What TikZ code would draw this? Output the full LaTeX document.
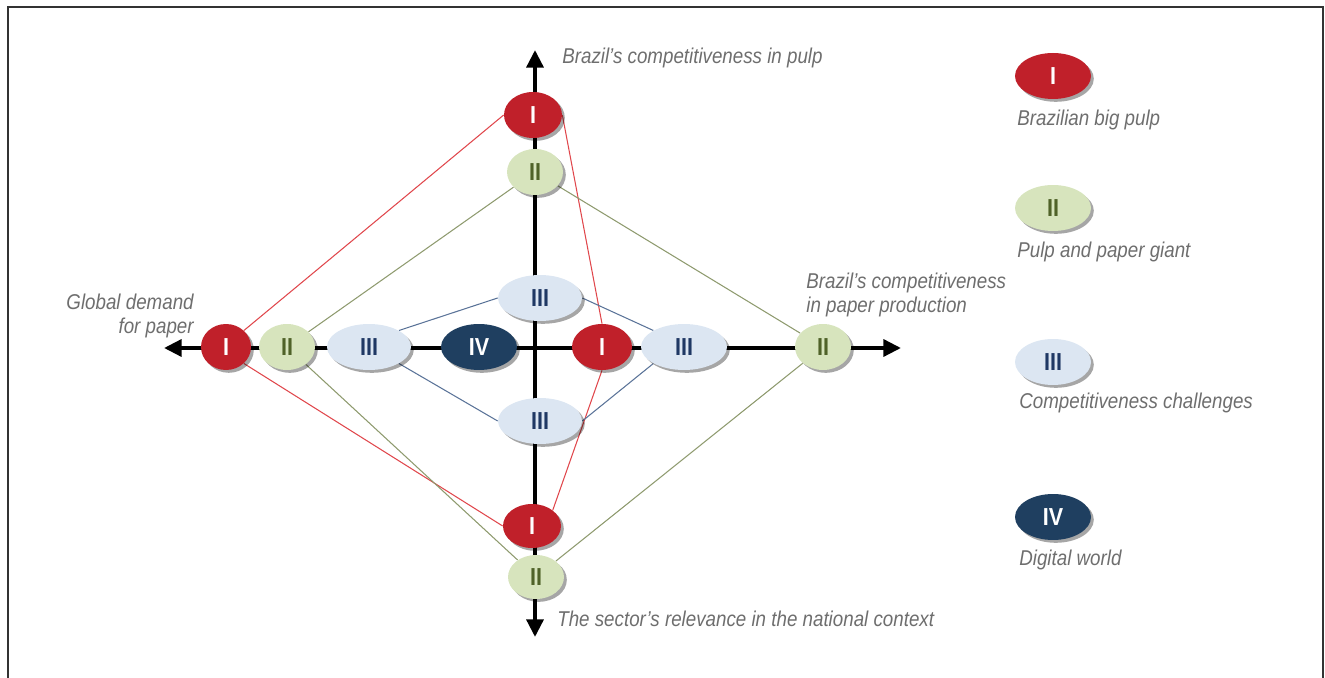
\documentclass[tikz,border=0pt]{standalone}
\usepackage{fontspec}
\setmainfont{Liberation Sans}[FakeStretch=0.875]
\usetikzlibrary{shapes.geometric,shadows,arrows.meta}
\definecolor{redfill}{HTML}{C0202A}
\definecolor{greenfill}{HTML}{D7E4BD}
\definecolor{bluefill}{HTML}{DCE6F2}
\definecolor{navyfill}{HTML}{1F3F60}
\definecolor{greentext}{HTML}{4F6228}
\definecolor{bluetext}{HTML}{1F3864}
\definecolor{redline}{HTML}{E0474C}
\definecolor{greenline}{HTML}{8E9A6E}
\definecolor{blueline}{HTML}{5A7398}
\definecolor{labelgray}{HTML}{6E6E6E}
\pgfdeclarelayer{background}
\pgfsetlayers{background,main}
\tikzset{
  oval/.style={ellipse, inner sep=0pt, minimum height=0.92cm, font=\fontsize{14}{14}\selectfont\bfseries,
    drop shadow={shadow xshift=1.6pt, shadow yshift=-1.6pt, opacity=0.35, fill=black}},
  oI/.style={oval, fill=redfill, text=white},
  oII/.style={oval, fill=greenfill, text=greentext},
  oIII/.style={oval, fill=bluefill, text=bluetext},
  oIV/.style={oval, fill=navyfill, text=white},
  lbl/.style={font=\fontsize{12.2}{13.4}\selectfont\itshape, text=labelgray, inner sep=0pt},
  axis/.style={line width=2.3pt, -{Stealth[length=10pt,width=9.5pt,inset=0pt]}},
  redl/.style={draw=redline, line width=0.6pt},
  greenl/.style={draw=greenline, line width=0.6pt},
  bluel/.style={draw=blueline, line width=0.6pt},
  frame/.style={draw=black!80, line width=1.2pt}
}
\begin{document}
\begin{tikzpicture}[x=0.02cm,y=-0.02cm]
\useasboundingbox (0,0) rectangle (1325,678);
\draw[frame] (8,680) -- (8,7) -- (1323,7) -- (1323,680);

% diagram nodes
\node[oI, minimum width=1.16cm] (tI) at (533,115) {I};
\node[oII, minimum width=1.12cm] (tII) at (535,172) {II};
\node[oI, minimum width=1.0cm] (lI) at (226,347) {I};
\node[oII, minimum width=1.12cm] (lII) at (287,347) {II};
\node[oIII, minimum width=1.68cm] (lIII) at (369,347) {III};
\node[oIV, minimum width=1.52cm] (cIV) at (479,347) {IV};
\node[oI, minimum width=1.2cm] (rI) at (602,347) {I};
\node[oIII, minimum width=1.72cm] (rIII) at (684,347) {III};
\node[oII, minimum width=1.12cm] (rII) at (823,347) {II};
\node[oIII, minimum width=1.68cm] (tIII) at (540,298) {III};
\node[oIII, minimum width=1.68cm] (bIII) at (540,421) {III};
\node[oI, minimum width=1.16cm, minimum height=0.88cm] (bI) at (532,526) {I};
\node[oII, minimum width=1.12cm, minimum height=0.88cm] (bII) at (536,577) {II};

% axis end points
\coordinate (axT) at (535,50);
\coordinate (axB) at (535,637);
\coordinate (axL) at (164,348);
\coordinate (axR) at (901,348);
\coordinate (axC) at (535,348);

\begin{pgfonlayer}{background}
  \draw[axis] (axC) -- (axT);
  \draw[axis] (axC) -- (axB);
  \draw[axis] (axC) -- (axL);
  \draw[axis] (axC) -- (axR);
  % red
  \draw[redl] (tI.west) -- (lI.north east);
  \draw[redl] (tI.east) -- (rI.north);
  \draw[redl] (rI.south) -- (bI.north east);
  \draw[redl] (lI.south east) -- (bI.west);
  % green
  \draw[greenl] (tII) -- (lII);
  \draw[greenl] (tII) -- (rII);
  \draw[greenl] (lII) -- (bII);
  \draw[greenl] (rII) -- (bII);
  % blue
  \draw[bluel] (tIII.west) -- (lIII.north east);
  \draw[bluel] (tIII.east) -- (rIII.north west);
  \draw[bluel] (lIII.south east) -- (bIII.west);
  \draw[bluel] (rIII.south west) -- (bIII.east);
\end{pgfonlayer}

% axis labels
\node[lbl, anchor=west] (labT) at (562,58) {Brazil’s competitiveness in pulp};
\node[lbl, anchor=east, align=right] (labL) at (194,316) {Global demand\\for paper};
\node[lbl, anchor=west, align=left] (labR) at (806,295) {Brazil’s competitiveness\\in paper production};
\node[lbl, anchor=west] (labB) at (557,619) {The sector’s relevance in the national context};

% legend
\node[oI, minimum width=1.52cm] (gI) at (1053,76) {I};
\node[lbl, anchor=west] (gIt) at (1017,120) {Brazilian big pulp};
\node[oII, minimum width=1.52cm] (gII) at (1053,208) {II};
\node[lbl, anchor=west] (gIIt) at (1017,252) {Pulp and paper giant};
\node[oIII, minimum width=1.52cm] (gIII) at (1053,362) {III};
\node[lbl, anchor=west] (gIIIt) at (1019,403) {Competitiveness challenges};
\node[oIV, minimum width=1.52cm] (gIV) at (1053,517) {IV};
\node[lbl, anchor=west] (gIVt) at (1019,560) {Digital world};
\end{tikzpicture}
\end{document}
